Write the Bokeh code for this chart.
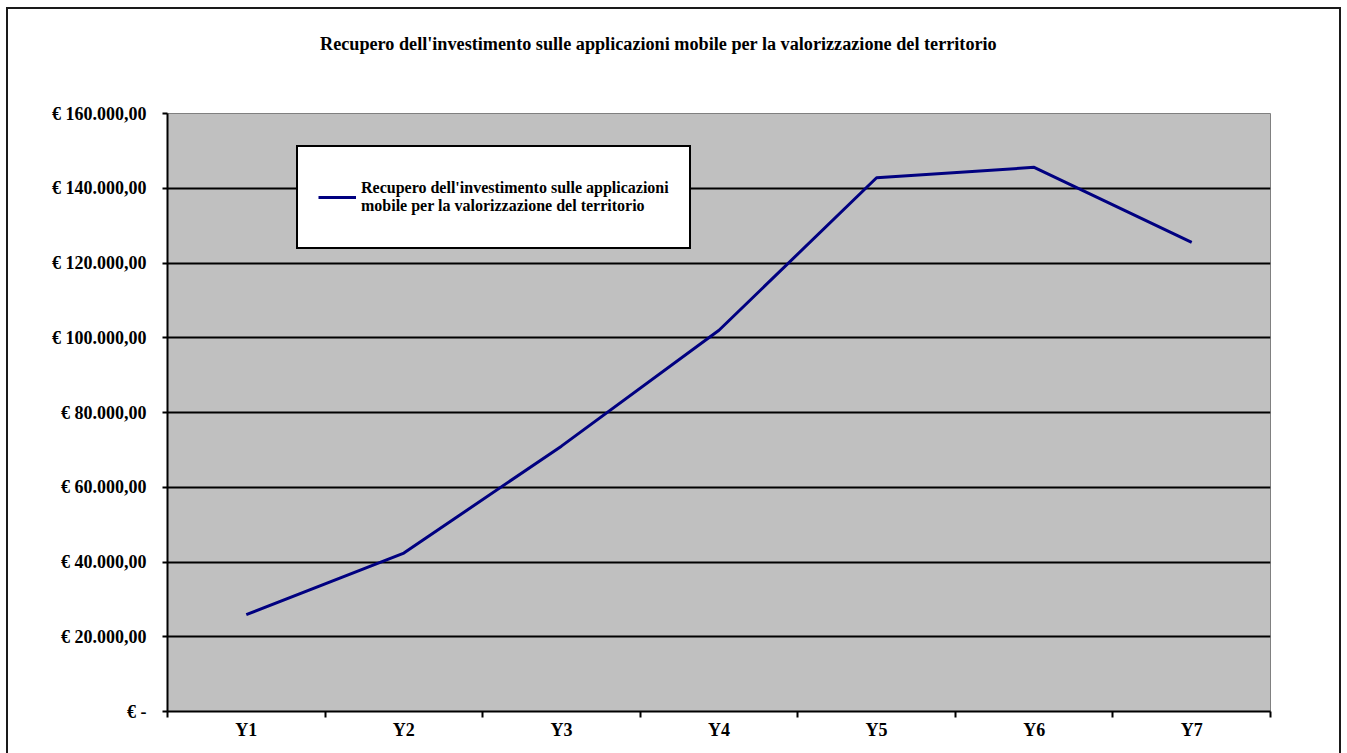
from bokeh.plotting import figure
from bokeh.models import FixedTicker, Legend, LegendItem, Range1d, Div
from bokeh.layouts import column
from bokeh.embed import file_html
from bokeh.resources import INLINE

# Chart data
title_text = "Recupero dell'investimento sulle applicazioni mobile per la valorizzazione del territorio"
series_name = "Recupero dell'investimento sulle applicazioni\nmobile per la valorizzazione del territorio"
categories = ["Y1", "Y2", "Y3", "Y4", "Y5", "Y6", "Y7"]
values = [25900, 42400, 71000, 102000, 142800, 145600, 125500]
y_ticks = [0, 20000, 40000, 60000, 80000, 100000, 120000, 140000, 160000]


def euro(v):
    if v == 0:
        return "€ -"
    s = f"{v:,.2f}"  # 160,000.00
    s = s.replace(",", "X").replace(".", ",").replace("X", ".")
    return "€ " + s


SERIF = "Liberation Serif"

# categories sit in the middle of unit-wide slots
xs = [i + 0.5 for i in range(len(categories))]

# heading strip above the chart
heading = Div(
    text=(
        '<div style="font-family:\'Liberation Serif\',serif;font-weight:bold;'
        'font-size:18.2px;line-height:18px;color:black;white-space:nowrap;'
        'padding-top:26px;padding-left:312px;">' + title_text + "</div>"
    ),
    width=1331, height=50, margin=0,
)

p = figure(
    width=1331, height=695,
    output_backend="svg", toolbar_location=None,
    x_range=Range1d(0, len(categories)), y_range=Range1d(0, 160000),
    min_border_left=159, min_border_right=69,
    min_border_top=54, min_border_bottom=43,
    margin=0,
)

p.background_fill_color = "#c0c0c0"
p.border_fill_color = "white"
p.outline_line_color = "#808080"
p.outline_line_width = 1

line = p.line(xs, values, line_color="#000080", line_width=3)

# x axis: labels at slot centres, tick marks at slot boundaries
p.xaxis.ticker = FixedTicker(ticks=xs, minor_ticks=list(range(len(categories) + 1)))
p.xaxis.major_label_overrides = {x: c for x, c in zip(xs, categories)}
p.xaxis.major_tick_out = 0
p.xaxis.major_tick_in = 0
p.xaxis.minor_tick_out = 6
p.xaxis.minor_tick_in = 0
p.xaxis.minor_tick_line_color = "black"
p.xaxis.minor_tick_line_width = 2
p.xaxis.axis_line_color = "black"
p.xaxis.axis_line_width = 2
p.xaxis.major_label_text_font = SERIF
p.xaxis.major_label_text_font_style = "bold"
p.xaxis.major_label_text_font_size = "18px"
p.xaxis.major_label_text_color = "black"
p.xaxis.major_label_standoff = 2

p.yaxis.ticker = FixedTicker(ticks=y_ticks)
p.yaxis.major_label_overrides = {t: euro(t) for t in y_ticks}
p.yaxis.major_tick_out = 5
p.yaxis.major_tick_in = 0
p.yaxis.minor_tick_line_color = None
p.yaxis.major_tick_line_color = "black"
p.yaxis.major_tick_line_width = 2
p.yaxis.axis_line_color = "black"
p.yaxis.axis_line_width = 2
p.yaxis.major_label_text_font = SERIF
p.yaxis.major_label_text_font_style = "bold"
p.yaxis.major_label_text_font_size = "18px"
p.yaxis.major_label_text_color = "black"
p.yaxis.major_label_standoff = 16

p.xgrid.grid_line_color = None
p.ygrid.ticker = FixedTicker(ticks=y_ticks[1:-1])
p.ygrid.grid_line_color = "black"
p.ygrid.grid_line_width = 2

legend = Legend(
    items=[LegendItem(label=series_name, renderers=[line])],
    location=(129, 462),
    padding=20, margin=0, spacing=0,
    glyph_width=38, label_standoff=5, label_width=0, label_height=60,
    border_line_color="black", border_line_width=2, border_line_alpha=1,
    background_fill_color="white", background_fill_alpha=1,
    label_text_font=SERIF, label_text_font_style="bold",
    label_text_font_size="16px", label_text_line_height=1.2,
    label_text_color="black",
)
p.add_layout(legend)

page = column(heading, p, spacing=0)
page.styles = {
    "margin-left": "6px", "margin-top": "7px",
    "border-left": "2px solid #1a1a1a", "border-top": "2px solid #1a1a1a",
    "border-right": "2px solid #1a1a1a",
}

open("out.html", "w").write(file_html(page, INLINE))
